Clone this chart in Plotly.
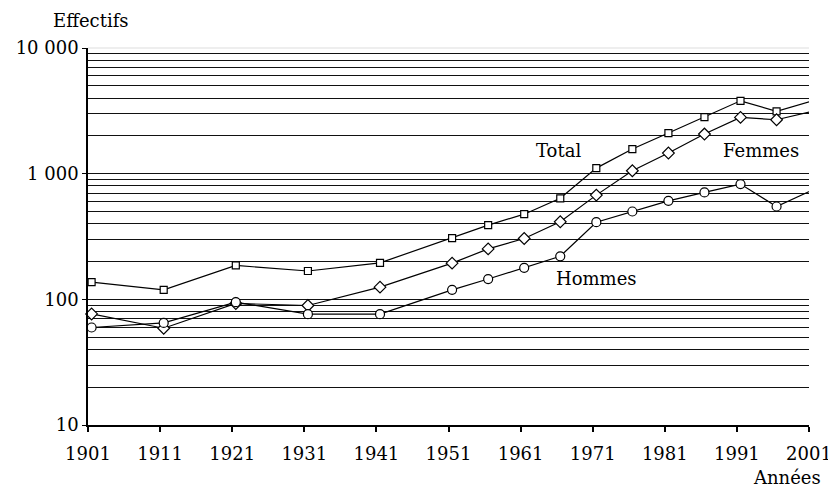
import plotly.graph_objects as go

years = [1901, 1911, 1921, 1931, 1941, 1951, 1956, 1961, 1966, 1971, 1976, 1981, 1986, 1991, 1996, 2001]
total = [137, 119, 186, 168, 195, 307, 390, 476, 637, 1107, 1570, 2104, 2820, 3800, 3130, 3800]
femmes = [76.5, 58.9, 92.7, 89.3, 125, 194, 252, 305, 414, 675, 1055, 1459, 2066, 2805, 2686, 3130]
hommes = [59.7, 64.9, 94.9, 76.2, 76.2, 119, 145, 178, 220, 411, 500, 608, 709, 826, 548, 743]

tick_years = [1901, 1911, 1921, 1931, 1941, 1951, 1961, 1971, 1981, 1991, 2001]
ytick_vals = [10, 100, 1000, 10000]
ytick_text = ["10", "100", "1 000", "10 000"]
grid_vals = [20, 30, 40, 50, 60, 70, 80, 90, 100, 200, 300, 400, 500, 600, 700, 800, 900,
             1000, 2000, 3000, 4000, 5000, 6000, 7000, 8000, 9000]

OFFSET = 0.5  # markers sit slightly right of the year ticks
FONT = "DejaVu Serif"

fig = go.Figure()
series = [
    ("Total", total, "square", 7),
    ("Femmes", femmes, "diamond", 9),
    ("Hommes", hommes, "circle", 9),
]
for name, vals, sym, size in series:
    fig.add_trace(go.Scatter(
        x=years, y=vals, mode="lines+markers", name=name,
        line=dict(color="black", width=1.2),
        marker=dict(symbol=sym, size=size, color="white", line=dict(color="black", width=1.2)),
        cliponaxis=False, showlegend=False,
    ))

fig.update_layout(
    width=829, height=481,
    margin=dict(l=80, r=28, t=40, b=64, autoexpand=False),
    paper_bgcolor="white", plot_bgcolor="white",
    font=dict(family=FONT, size=18, color="black"),
    xaxis=dict(
        range=[1901 - OFFSET, 2001 - OFFSET],
        tickvals=[y - OFFSET for y in tick_years],
        ticktext=[str(y) for y in tick_years],
        showgrid=False, zeroline=False, automargin=False,
        showline=True, linecolor="black", linewidth=1.5,
        ticks="outside", ticklen=5, tickcolor="black", tickwidth=1.5,
        ticklabelstandoff=7,
    ),
    yaxis=dict(
        type="log", range=[1, 4],
        tickvals=ytick_vals, ticktext=ytick_text,
        showgrid=False, zeroline=False, automargin=False,
        showline=True, linecolor="black", linewidth=1.5,
        ticks="outside", ticklen=4, tickcolor="black", tickwidth=1.2,
        minor=dict(tickvals=grid_vals, showgrid=True, gridcolor="#111", gridwidth=1.4, ticks=""),
    ),
    shapes=[dict(type="line", xref="paper", yref="paper", x0=0, x1=1, y0=1, y1=1,
                 line=dict(color="#dddddd", width=1))],
    annotations=[
        dict(text="Effectifs", xref="paper", yref="paper", x=0.004, y=1.106,
             xanchor="center", yanchor="top", showarrow=False),
        dict(text="Années", xref="paper", yref="paper", x=0.969, y=-0.140,
             xanchor="center", yanchor="middle", showarrow=False),
        dict(text="Total", xref="paper", yref="paper", x=0.6524, y=0.7279,
             xanchor="center", yanchor="middle", showarrow=False),
        dict(text="Femmes", xref="paper", yref="paper", x=0.934, y=0.7279,
             xanchor="center", yanchor="middle", showarrow=False),
        dict(text="Hommes", xref="paper", yref="paper", x=0.7058, y=0.388,
             xanchor="center", yanchor="middle", showarrow=False),
    ],
)

fig.write_html("out.html")
